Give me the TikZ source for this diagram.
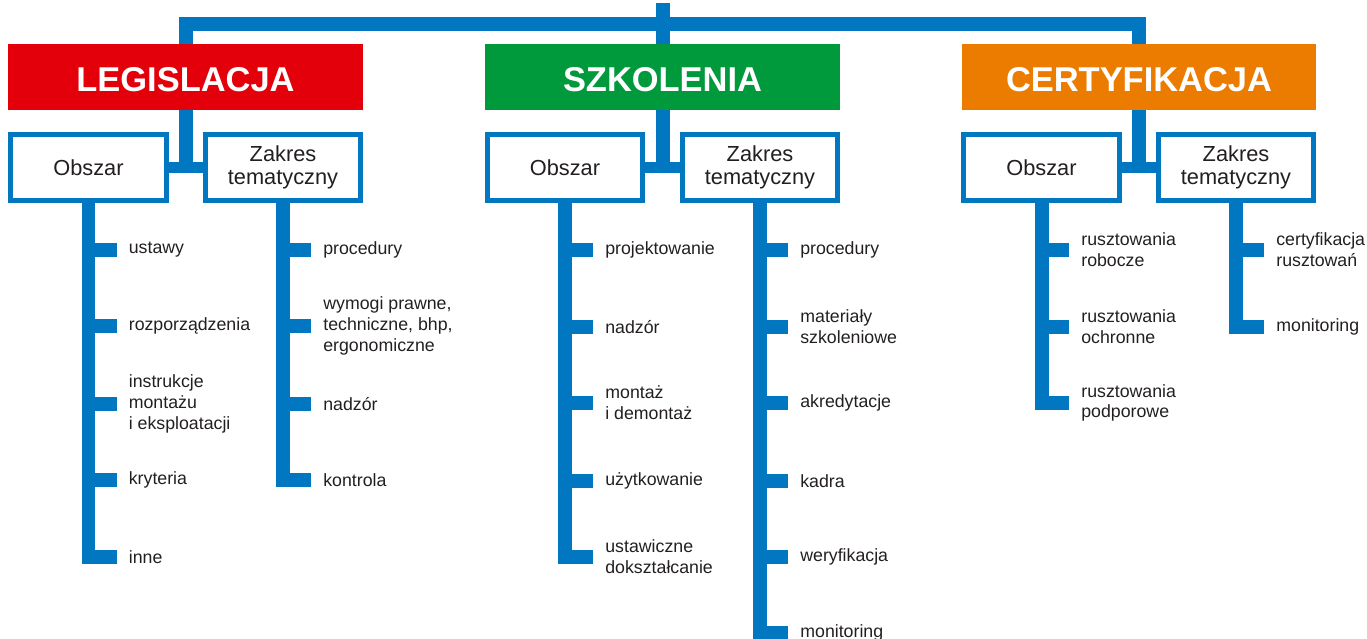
\documentclass[tikz,border=0pt]{standalone}
\usepackage{fontspec}
\setmainfont{Liberation Sans}
\usetikzlibrary{positioning,calc}

\definecolor{schemablue}{RGB}{0,119,192}
\definecolor{legred}{RGB}{227,0,11}
\definecolor{szkgreen}{RGB}{0,154,61}
\definecolor{certorange}{RGB}{236,124,0}
\definecolor{textgray}{RGB}{35,31,32}

\begin{document}
\begin{tikzpicture}[
    x=0.02cm, y=-0.02cm,
    conn/.style={draw=schemablue, line width=0.28cm},
    bar/.style={draw=schemablue, line width=0.22cm},
    head/.style={fill=#1, text=white, minimum width=7.1cm, minimum height=1.32cm, inner sep=0pt,
        font=\fontsize{19.6}{22}\selectfont\bfseries, text height=18.6pt, text depth=2pt},
    sub/.style={draw=schemablue, line width=0.1cm, fill=white, minimum width=3.12cm, minimum height=1.32cm,
        inner sep=0pt, align=center, font=\fontsize{12.4}{13.1}\selectfont, text=textgray},
    item/.style={anchor=west, inner xsep=0.24cm, inner ysep=0pt, align=left,
        font=\fontsize{10.1}{11.8}\selectfont, text=textgray}
]
    \clip (0,0) rectangle (1367,639);

    % main categories
    \node[head=legred] (legis) at (185.5,77) {LEGISLACJA};
    \node[head=szkgreen] (szk) at (662.5,77) {SZKOLENIA};
    \node[head=certorange] (cert) at (1139,77) {CERTYFIKACJA};

    \coordinate (top) at (662.5,3);
    \draw[conn] (legis.north) |- (top |- 0,24) -| (cert.north);
    \draw[conn] (top) -- (szk.north);

    % second level
    \node[sub] (lo) at (88.5,167.5) {Obszar};
    \node[sub] (lz) at (283,167.5) {Zakres\\tematyczny};
    \node[sub] (so) at (565,167.5) {Obszar};
    \node[sub] (sz) at (760,167.5) {Zakres\\tematyczny};
    \node[sub] (co) at (1041.5,167.5) {Obszar};
    \node[sub] (cz) at (1236,167.5) {Zakres\\tematyczny};

    \foreach \h/\o/\z in {legis/lo/lz, szk/so/sz, cert/co/cz}{
        \draw[bar] (\o.east) -- (\z.west);
        \draw[conn] (\h.south) -- (\h.south |- \o.east);
    }

    % LEGISLACJA
    \foreach \y/\txt [count=\i] in {250/ustawy, 326/rozporządzenia,
        404/{instrukcje\\montażu\\i eksploatacji}, 480/kryteria, 557/inne}{
        \node[item] (lo-\i) at (116.5,\y) {\txt};
        \draw[conn] (lo.south) |- (lo-\i.west);
    }
    \foreach \y/\txt [count=\i] in {250/procedury,
        326/{wymogi prawne,\\techniczne, bhp,\\ergonomiczne}, 404/nadzór, 480/kontrola}{
        \node[item] (lz-\i) at (311,\y) {\txt};
        \draw[conn] (lz.south) |- (lz-\i.west);
    }

    % SZKOLENIA
    \foreach \y/\txt [count=\i] in {250/projektowanie, 327/nadzór,
        403/{montaż\\i demontaż}, 481/użytkowanie, 557/{ustawiczne\\dokształcanie}}{
        \node[item] (so-\i) at (593,\y) {\txt};
        \draw[conn] (so.south) |- (so-\i.west);
    }
    \foreach \y/\txt [count=\i] in {250/procedury, 327/{materiały\\szkoleniowe},
        403/akredytacje, 481/kadra, 557/weryfikacja, 633/monitoring}{
        \node[item] (sz-\i) at (788,\y) {\txt};
        \draw[conn] (sz.south) |- (sz-\i.west);
    }

    % CERTYFIKACJA
    \foreach \y/\txt [count=\i] in {250/{rusztowania\\robocze},
        327/{rusztowania\\ochronne}, 403/{rusztowania\\podporowe}}{
        \node[item] (co-\i) at (1069,\y) {\txt};
        \draw[conn] (co.south) |- (co-\i.west);
    }
    \foreach \y/\txt [count=\i] in {250/{certyfikacja\\rusztowań}, 327/monitoring}{
        \node[item] (cz-\i) at (1264,\y) {\txt};
        \draw[conn] (cz.south) |- (cz-\i.west);
    }
\end{tikzpicture}
\end{document}
